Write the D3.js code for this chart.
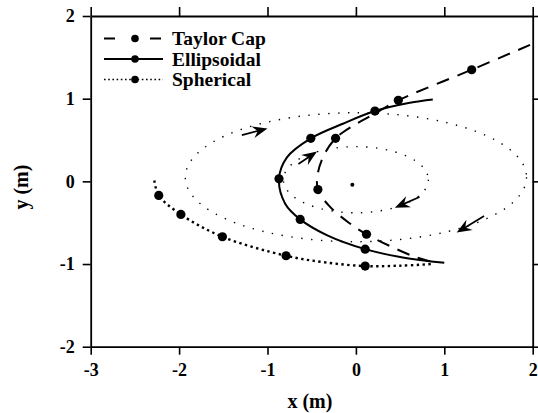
<!DOCTYPE html>
<html lang="en">
<head>
    <meta charset="UTF-8">
    <title>Bubble trajectories</title>
    <script src="https://d3js.org/d3.v7.min.js"></script>
    <style>
        body { margin: 0; background: #fff; }
        svg text { font-family: "Liberation Serif", "Times New Roman", serif; font-weight: bold; fill: #000; }
    </style>
</head>
<body>
    <div id="chart"></div>

    <script>
        // axis ticks
        const xTicks = [-3, -2, -1, 0, 1, 2];
        const yTicks = [-2, -1, 0, 1, 2];

        // trajectories (x, y in m)
        const taylorPath = [[1.97, 1.65], [1.31, 1.35], [0.48, 0.98], [0.2, 0.81], [-0.02, 0.68], [-0.23, 0.52],
            [-0.36, 0.32], [-0.43, 0.1], [-0.43, -0.1], [-0.3, -0.3], [-0.08, -0.5], [0.12, -0.64],
            [0.4, -0.79], [0.66, -0.91], [0.85, -0.97]];
        const taylorPts = [[1.31, 1.35], [0.48, 0.98], [-0.23, 0.52], [-0.43, -0.1], [0.12, -0.64]];

        const ellipsoidalPath = [[0.87, 0.99], [0.61, 0.95], [0.215, 0.85], [-0.14, 0.7], [-0.51, 0.52],
            [-0.78, 0.29], [-0.87, 0.03], [-0.8, -0.27], [-0.63, -0.46], [-0.33, -0.65], [0.105, -0.82],
            [0.53, -0.92], [1.0, -0.985]];
        const ellipsoidalPts = [[0.215, 0.85], [-0.51, 0.52], [-0.87, 0.03], [-0.63, -0.46], [0.105, -0.82]];

        const sphericalPath = [[-2.28, 0.01], [-2.23, -0.17], [-1.98, -0.4], [-1.51, -0.67], [-0.79, -0.9],
            [-0.35, -0.98], [0.105, -1.025], [0.5, -1.02], [0.87, -1.0]];
        const sphericalPts = [[-2.23, -0.17], [-1.98, -0.4], [-1.51, -0.67], [-0.79, -0.9], [0.105, -1.025]];

        // flow ellipses: [cx, cy, rx, ry]
        const ellipses = [[0, 0.05, 1.93, 0.78], [0, 0.02, 0.82, 0.4]];
        const centre = [-0.04, -0.04];

        // arrows: [tailX, tailY, headX, headY]
        const arrows = [[-1.29, 0.56, -1.0, 0.64], [-0.65, 0.21, -0.44, 0.36],
            [0.72, -0.19, 0.44, -0.32], [1.45, -0.42, 1.14, -0.62]];

        const legendNames = ["Taylor Cap", "Ellipsoidal", "Spherical"];

        const width = 538, height = 413;
        const margin = { top: 16, right: 5.3, bottom: 66.3, left: 90.7 };

        const svg = d3.select("#chart").append("svg")
            .attr("width", width)
            .attr("height", height);

        const x = d3.scaleLinear().domain([-3, 2]).range([margin.left, width - margin.right]);
        const y = d3.scaleLinear().domain([-2, 2]).range([height - margin.bottom, margin.top]);

        // frame + ticks
        function styleAxis(g) {
            g.selectAll("path").attr("stroke-width", 1.8);
            g.selectAll("line").attr("stroke-width", 1.6);
            g.selectAll("text").style("font-size", "18px");
        }
        svg.append("g").attr("transform", `translate(0,${y(-2)})`)
            .call(d3.axisBottom(x).tickValues(xTicks).tickSize(8).tickSizeOuter(0).tickPadding(9).tickFormat(d => String(d)))
            .call(styleAxis);
        svg.append("g").attr("transform", `translate(0,${y(2)})`)
            .call(d3.axisTop(x).tickValues(xTicks).tickSize(9).tickSizeOuter(0).tickFormat(""))
            .call(styleAxis);
        svg.append("g").attr("transform", `translate(${x(-3)},0)`)
            .call(d3.axisLeft(y).tickValues(yTicks).tickSize(8).tickSizeOuter(0).tickPadding(8).tickFormat(d => String(d)))
            .call(styleAxis);
        svg.append("g").attr("transform", `translate(${x(2)},0)`)
            .call(d3.axisRight(y).tickValues(yTicks).tickSize(6).tickSizeOuter(0).tickFormat(""))
            .call(styleAxis);
        svg.selectAll(".domain").attr("stroke", "#000");
        svg.selectAll(".tick text").attr("font-family", null);

        // axis titles
        svg.append("text")
            .attr("x", x(-0.52)).attr("y", 408)
            .attr("text-anchor", "middle")
            .style("font-size", "20px")
            .text("x (m)");
        svg.append("text")
            .attr("transform", `translate(28,${y(-0.07)}) rotate(-90)`)
            .attr("text-anchor", "middle")
            .style("font-size", "20px")
            .text("y (m)");

        // thin dotted ellipses
        svg.selectAll(".flow")
            .data(ellipses)
            .join("ellipse")
            .attr("cx", d => x(d[0]))
            .attr("cy", d => y(d[1]))
            .attr("rx", d => x(d[0] + d[2]) - x(d[0]))
            .attr("ry", d => y(d[1] - d[3]) - y(d[1]))
            .attr("fill", "none")
            .attr("stroke", "#000")
            .attr("stroke-width", 1.4)
            .attr("stroke-dasharray", "1.4,8.5");

        svg.append("circle")
            .attr("cx", x(centre[0])).attr("cy", y(centre[1])).attr("r", 2);

        // arrows
        arrows.forEach(a => {
            const x1 = x(a[0]), y1 = y(a[1]), x2 = x(a[2]), y2 = y(a[3]);
            const len = Math.hypot(x2 - x1, y2 - y1);
            const ang = Math.atan2(y2 - y1, x2 - x1) * 180 / Math.PI;
            const g = svg.append("g").attr("transform", `translate(${x2},${y2}) rotate(${ang})`);
            g.append("line").attr("x1", -len).attr("x2", -8).attr("stroke", "#000").attr("stroke-width", 1.7);
            g.append("path").attr("d", "M0,0 L-15,-6 L-10,0 L-15,6 Z").attr("fill", "#000");
        });

        const line = d3.line().x(d => x(d[0])).y(d => y(d[1])).curve(d3.curveCatmullRom.alpha(0.5));

        const series = [
            { path: taylorPath, pts: taylorPts, width: 2, dash: "13,9", legDash: "11,35" },
            { path: ellipsoidalPath, pts: ellipsoidalPts, width: 2, dash: null, legDash: null },
            { path: sphericalPath, pts: sphericalPts, width: 2.4, dash: "2.4,3.4", legDash: "1.6,2.6" }
        ];

        series.forEach(s => {
            svg.append("path")
                .attr("d", line(s.path))
                .attr("fill", "none")
                .attr("stroke", "#000")
                .attr("stroke-width", s.width)
                .attr("stroke-dasharray", s.dash);
            svg.selectAll(null)
                .data(s.pts)
                .join("circle")
                .attr("cx", d => x(d[0]))
                .attr("cy", d => y(d[1]))
                .attr("r", 4.6)
                .attr("fill", "#000");
        });

        // legend
        const legend = svg.append("g");
        series.forEach((s, i) => {
            const ly = 38.5 + i * 20.5;
            legend.append("line")
                .attr("x1", 104).attr("x2", 163).attr("y1", ly).attr("y2", ly)
                .attr("stroke", "#000")
                .attr("stroke-width", i === 2 ? 1.6 : 2)
                .attr("stroke-dasharray", s.legDash);
            legend.append("circle").attr("cx", 135).attr("cy", ly).attr("r", 3.8);
            legend.append("text")
                .attr("x", 172).attr("y", ly + 6.5)
                .style("font-size", "19.5px")
                .text(legendNames[i]);
        });
    </script>
</body>
</html>
